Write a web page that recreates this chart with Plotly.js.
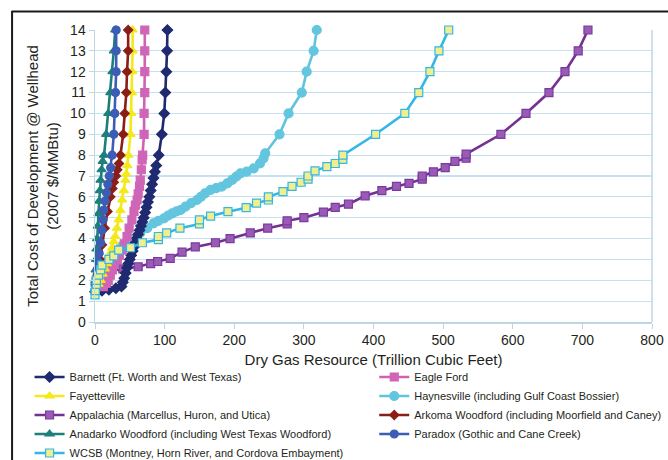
<!DOCTYPE html>
<html>
<head>
<meta charset="utf-8">
<script src="https://cdn.plot.ly/plotly-3.0.1.min.js"></script>
<style>
html,body{margin:0;padding:0;background:#fff;}
#chart{width:668px;height:460px;}
</style>
</head>
<body>
<div id="chart"></div>
<script>
// ---- Data (Trillion Cubic Feet vs 2007 $/MMBtu) ----
const barnettX = [0, 10, 20, 30, 38, 40, 42, 44, 46, 48, 50, 52, 54, 56, 58, 60, 62, 64, 66, 68, 70, 72, 74, 76, 78, 80, 82, 84, 86, 88, 91.5, 96, 99.5, 101, 102.5, 103.5, 104];
const barnettY = [1.45, 1.5, 1.55, 1.62, 1.7, 1.9, 2.1, 2.35, 2.6, 2.8, 3.0, 3.2, 3.4, 3.6, 3.8, 4.0, 4.2, 4.4, 4.6, 4.8, 5.0, 5.25, 5.5, 5.75, 6.0, 6.3, 6.6, 6.9, 7.2, 7.5, 8, 9, 10, 11, 12, 13, 14];

const fayX = [5, 8, 11, 14, 17, 19, 22, 24.6, 27, 29, 31.5, 34, 36.5, 39, 41.5, 43.7, 45, 46.5, 48, 51, 52, 53, 53.5, 54, 54];
const fayY = [1.8, 2.0, 2.3, 2.55, 2.8, 3.0, 3.3, 3.55, 3.85, 4.1, 4.5, 4.9, 5.35, 5.85, 6.3, 6.8, 7.1, 7.5, 8, 9, 10, 11, 12, 13, 14];

const appX = [5, 20, 40, 62, 80, 90, 108, 125, 144, 173, 194, 223, 248, 276, 276, 300, 328, 345, 364, 388, 412, 433, 451, 470, 470, 486, 503, 517, 533, 533, 583, 619, 652, 675, 694, 708];
const appY = [2.3, 2.4, 2.55, 2.65, 2.8, 2.9, 3.05, 3.35, 3.6, 3.8, 4.0, 4.27, 4.5, 4.7, 4.85, 5.0, 5.27, 5.5, 5.65, 6.05, 6.3, 6.5, 6.65, 6.85, 7.0, 7.2, 7.4, 7.7, 7.85, 8.05, 9, 10, 11, 12, 13, 14];

const anaX = [0, 0.5, 1, 1.5, 2, 3, 4, 5, 6, 7, 8, 9.5, 11, 13, 16, 19, 22, 25, 27, 29];
const anaY = [1.6, 2.0, 2.5, 3.0, 3.5, 4.0, 4.6, 5.2, 5.8, 6.3, 6.8, 7.3, 7.7, 8, 9, 10, 11, 12, 13, 14];

const wcsbX = [0, 0.5, 2, 2, 5, 8, 10, 20, 27, 34, 51, 68, 91, 91, 103, 122, 150, 150, 166, 191, 217, 232, 249, 249, 270, 283, 296, 306, 306, 316, 333, 345, 356, 356, 403, 445, 465, 481, 494, 508];
const wcsbY = [1.3, 1.5, 1.8, 2.0, 2.25, 2.5, 2.73, 3.0, 3.17, 3.45, 3.56, 3.8, 3.95, 4.1, 4.27, 4.5, 4.7, 4.9, 5.08, 5.29, 5.48, 5.7, 5.85, 6.0, 6.25, 6.5, 6.7, 6.85, 7.0, 7.25, 7.45, 7.6, 7.8, 8.0, 9, 10, 11, 12, 13, 14];

const eagleX = [12, 16, 19, 22, 25, 28, 32, 35, 39, 42, 46, 49, 53, 56, 58, 60.5, 62, 64, 65, 66.5, 67.7, 68.5, 70.5, 70.5, 71.5, 71.5, 71.5, 71.5];
const eagleY = [1.7, 1.85, 2.0, 2.25, 2.5, 2.75, 3.0, 3.2, 3.45, 3.75, 4.1, 4.5, 4.9, 5.3, 5.6, 5.85, 6.15, 6.5, 6.8, 7.3, 7.77, 8, 9, 10, 11, 12, 13, 14];

const haynX = [2, 6, 12, 20, 28, 37, 46, 55, 65, 75, 84, 91, 99, 105, 111, 117, 123, 130, 138, 146.5, 152, 158, 166, 174, 182, 190, 197, 203, 209, 218, 228, 237, 242, 244.5, 265, 278, 297, 304, 314, 318.5];
const haynY = [1.8, 2.2, 2.6, 3.0, 3.3, 3.6, 3.8, 4.0, 4.27, 4.5, 4.73, 4.85, 4.97, 5.1, 5.21, 5.3, 5.37, 5.53, 5.7, 5.85, 6.0, 6.17, 6.33, 6.42, 6.49, 6.65, 6.81, 6.97, 7.13, 7.21, 7.37, 7.61, 7.85, 8.09, 9, 10, 11, 12, 13, 14];

const arkX = [1, 4, 7, 10, 14, 18, 22, 25, 27, 30, 32, 34.5, 36.6, 40.4, 42.7, 45, 46, 47.6, 47.6];
const arkY = [1.6, 2.3, 3.0, 3.7, 4.5, 5.3, 6.0, 6.4, 6.7, 7.0, 7.3, 7.6, 8, 9, 10, 11, 12, 13, 14];

const parX = [0, 1.5, 3, 4.5, 6, 8, 10, 11.5, 12.6, 14.5, 16.5, 18.5, 20.5, 22.5, 24.6, 27, 28.4, 29.4, 30.4, 30.4, 30.4];
const parY = [1.8, 2.1, 2.5, 2.9, 3.3, 3.8, 4.4, 4.9, 5.37, 5.8, 6.2, 6.6, 7.0, 7.4, 8, 9, 10, 11, 12, 13, 14];

const xTicks = [0, 100, 200, 300, 400, 500, 600, 700, 800];
const yTicks = [0, 1, 2, 3, 4, 5, 6, 7, 8, 9, 10, 11, 12, 13, 14];

const names = {
  barnett: "Barnett (Ft. Worth and West Texas)",
  fay: "Fayetteville",
  app: "Appalachia (Marcellus, Huron, and Utica)",
  ana: "Anadarko Woodford (including West Texas Woodford)",
  wcsb: "WCSB (Montney, Horn River, and Cordova Embayment)",
  eagle: "Eagle Ford",
  hayn: "Haynesville (including Gulf Coast Bossier)",
  ark: "Arkoma Woodford (including Moorfield and Caney)",
  par: "Paradox (Gothic and Cane Creek)"
};

function tr(x, y, name, lineColor, sym, mColor, mLine, mSize, legend, rank) {
  return {
    type: 'scatter', mode: 'lines+markers', x: x, y: y, name: name,
    line: {color: lineColor, width: 2.6},
    marker: {symbol: sym, color: mColor, size: mSize, line: {color: mLine, width: 1.2}},
    legend: legend, legendrank: rank, cliponaxis: false
  };
}

const data = [
  tr(appX, appY, names.app, '#74318f', 'square', '#9a5bb4', '#7a3aa0', 8, 'legend', 3),
  tr(haynX, haynY, names.hayn, '#5fc4dd', 'circle', '#63c5de', '#63c5de', 9, 'legend2', 2),
  tr(barnettX, barnettY, names.barnett, '#1f2a70', 'diamond', '#1f2a70', '#1f2a70', 8, 'legend', 1),
  tr(eagleX, eagleY, names.eagle, '#cf62b5', 'square', '#d065b7', '#d065b7', 8, 'legend2', 1),
  tr(fayX, fayY, names.fay, '#f3e91b', 'triangle-up', '#f3e91b', '#f3e91b', 8, 'legend', 2),
  tr(arkX, arkY, names.ark, '#8b1d17', 'diamond', '#8b1d17', '#8b1d17', 7, 'legend2', 3),
  tr(anaX, anaY, names.ana, '#1c7f7b', 'triangle-up', '#1c7f7b', '#1c7f7b', 8, 'legend', 4),
  tr(parX, parY, names.par, '#3c5db5', 'circle', '#3c5db5', '#3c5db5', 8, 'legend2', 4),
  tr(wcsbX, wcsbY, names.wcsb, '#34b6e6', 'square', '#f1ee8e', '#34b6e6', 8, 'legend', 5)
];

const font = 'Liberation Sans, Arial, Helvetica, sans-serif';
const L = 94.5, R = 16, T = 30, B = 138;
const pw = 668 - L - R, ph = 460 - T - B;
function px2x(p) { return (p - L) / pw; }
function py2y(p) { return (460 - B - p) / ph; }

const layout = {
  width: 668, height: 460,
  margin: {l: L, r: R, t: T, b: B, pad: 0, autoexpand: false},
  paper_bgcolor: '#ffffff', plot_bgcolor: '#ffffff',
  font: {family: font, color: '#231f20', size: 14},
  showlegend: true,
  xaxis: {
    range: [0, 800], tickvals: xTicks, ticktext: xTicks.map(String),
    showgrid: false, zeroline: false,
    showline: true, linecolor: '#bcd6e6', linewidth: 1.5, mirror: false,
    ticks: 'outside', ticklen: 5, tickcolor: '#bcd6e6',
    tickfont: {size: 14, family: font, color: '#231f20'},
    title: {text: 'Dry Gas Resource (Trillion Cubic Feet)', font: {size: 15, family: font, color: '#231f20'}, standoff: 7}
  },
  yaxis: {
    range: [0, 14], tickvals: yTicks, ticktext: yTicks.map(String),
    showgrid: true, gridcolor: '#c6e1ef', gridwidth: 1.2, zeroline: false,
    showline: true, linecolor: '#bcd6e6', linewidth: 1.5,
    ticks: 'outside', ticklen: 5, tickcolor: '#bcd6e6',
    tickfont: {size: 14, family: font, color: '#231f20'},
    title: {text: 'Total Cost of Development @ Wellhead<br>(2007 $/MMBtu)', font: {size: 15, family: font, color: '#231f20'}, standoff: 8}
  },
  legend: {
    orientation: 'v', x: px2x(29), xanchor: 'left', y: py2y(362.5), yanchor: 'top',
    font: {size: 11, family: font, color: '#231f20'}, bgcolor: 'rgba(0,0,0,0)', traceorder: 'normal'
  },
  legend2: {
    orientation: 'v', x: px2x(374), xanchor: 'left', y: py2y(362.5), yanchor: 'top',
    font: {size: 11, family: font, color: '#231f20'}, bgcolor: 'rgba(0,0,0,0)', traceorder: 'normal'
  },
  shapes: [
    {type: 'line', xref: 'paper', yref: 'paper', x0: px2x(652), x1: px2x(652), y0: 0, y1: 1, line: {color: '#bcd6e6', width: 1.5}},
    {type: 'line', xref: 'paper', yref: 'paper', x0: px2x(11), x1: px2x(670), y0: py2y(11.5), y1: py2y(11.5), line: {color: '#1a1a1a', width: 2}},
    {type: 'line', xref: 'paper', yref: 'paper', x0: px2x(11.5), x1: px2x(11.5), y0: py2y(11), y1: py2y(462), line: {color: '#1a1a1a', width: 2}}
  ]
};

Plotly.newPlot('chart', data, layout, {displayModeBar: false, staticPlot: true});
</script>
</body>
</html>
